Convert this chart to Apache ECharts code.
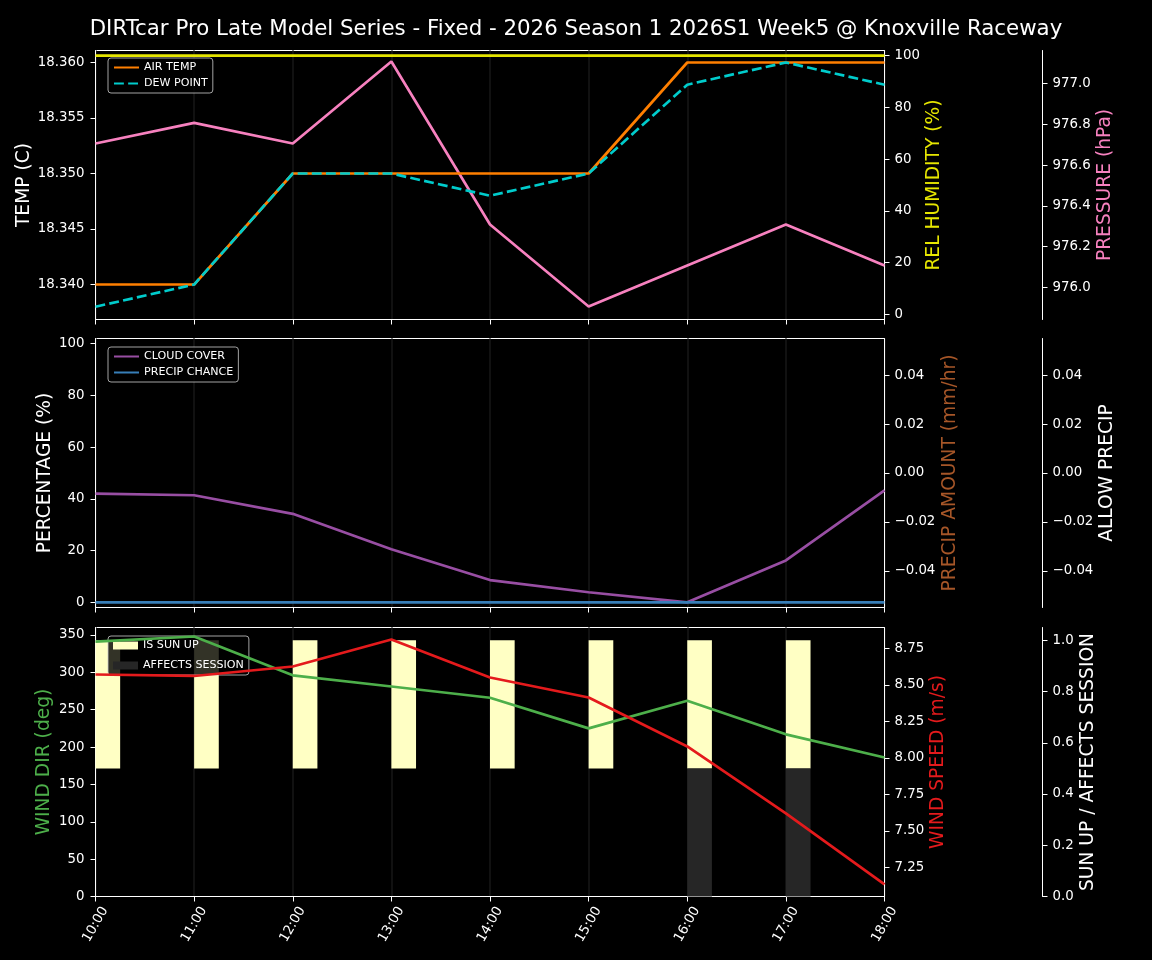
<!DOCTYPE html>
<html style="height:100%;width:100%">
<head>
<meta charset="UTF-8">
<title>Weather</title>
<style>
	body { margin:0; background:#000000; }
	#container { width:1152px; height:960px; }
</style>
<script src="https://cdn.jsdelivr.net/npm/echarts@6/dist/echarts.min.js"></script>
</head>
<body>
<div id="container"></div>
<script type="text/javascript">
var hours = ['10:00','11:00','12:00','13:00','14:00','15:00','16:00','17:00','18:00'];

var airTemp = [18.340,18.340,18.350,18.350,18.350,18.350,18.360,18.360,18.360];
var dewPoint = [18.338,18.340,18.350,18.350,18.348,18.350,18.358,18.360,18.358];
var humidity = [100,100,100,100,100,100,100,100,100];
var pressure = [976.706,976.807,976.706,977.108,976.309,975.907,976.108,976.309,976.108];

var cloudCover = [42,41.4,34.2,20.5,8.6,3.9,0,16.2,43.3];
var precipChance = [0,0,0,0,0,0,0,0,0];

var windDir = [341,348,296,281,266,225,262,217,186];
var windSpeed = [8.572,8.562,8.627,8.812,8.551,8.414,8.079,7.62,7.134];
var sunUp = [1,1,1,1,1,1,1,1,1];
var affectsSession = [0,0,0,0,0,0,1,1,1];

var tempTicks = [18.340,18.345,18.350,18.355,18.360];
var humidityTicks = [0,20,40,60,80,100];
var pressureTicks = [976.0,976.2,976.4,976.6,976.8,977.0];
var percentTicks = [0,20,40,60,80,100];
var precipTicks = [-0.04,-0.02,0,0.02,0.04];
var dirTicks = [0,50,100,150,200,250,300,350];
var speedTicks = [7.25,7.5,7.75,8,8.25,8.5,8.75];
var sessionTicks = [0,0.2,0.4,0.6,0.8,1];

var FONT = 'DejaVu Sans';
// half pixels keep the 1px frame crisp
var grids = [
	{ left:95.5, width:789, top:50.5, height:269, show:true, borderColor:'#fff', borderWidth:1, backgroundColor:'#000' },
	{ left:95.5, width:789, top:338.5, height:269, show:true, borderColor:'#fff', borderWidth:1, backgroundColor:'#000' },
	{ left:95.5, width:789, top:627.5, height:269, show:true, borderColor:'#fff', borderWidth:1, backgroundColor:'#000' }
];

function xAxis(gridIndex, labels) {
	return {
		type:'category', gridIndex:gridIndex, data:hours, boundaryGap:false,
		axisLine:{ onZero:false, lineStyle:{ color:'#fff', width:1 } },
		axisTick:{ show:true, length:5, alignWithLabel:true, lineStyle:{ color:'#fff', width:1 } },
		axisLabel:{
			show:labels, interval:0, rotate:60, align:'center', verticalAlign:'middle',
			color:'#fff', fontFamily:FONT, fontSize:13.33, margin:28
		},
		splitLine:{ show:true, interval:0, lineStyle:{ color:'#111', width:2 } }
	};
}

function yAxis(gridIndex, position, offset, name, nameColor, nameGap, min, max, ticks, decimals) {
	return {
		type:'value', gridIndex:gridIndex, position:position, offset:offset, min:min, max:max,
		name:name, nameLocation:'middle', nameRotate:90, nameGap:nameGap, nameMoveOverlap:false,
		nameTextStyle:{ color:nameColor, fontFamily:FONT, fontSize:18.67 },
		axisLine:{ show:true, onZero:false, lineStyle:{ color:'#fff', width:1 } },
		axisTick:{ show:true, length:5, customValues:ticks, lineStyle:{ color:'#fff', width:1 } },
		axisLabel:{
			color:'#fff', fontFamily:FONT, fontSize:13.33, margin:position == 'left' ? 11 : 10,
			padding:[4,0,0,0], customValues:ticks,
			formatter:function(v) { return v.toFixed(decimals).replace('-', '\u2212'); }
		},
		splitLine:{ show:false }
	};
}

// lines sit above the legend box, the bars below it
function line(name, data, color, xIndex, yIndex, dashed) {
	return {
		name:name, type:'line', data:data, xAxisIndex:xIndex, yAxisIndex:yIndex, z:11,
		symbol:'none', silent:true,
		lineStyle:{ color:color, width:2.67, type:dashed ? [9.87,4.27] : 'solid' },
		itemStyle:{ color:color }
	};
}

// bars start on the tick and fill a quarter of the hour, each one takes half of the axis
function halfBar(name, data, color, base) {
	return {
		name:name, type:'custom', data:data.map(function(v, i) { return [i, v]; }),
		xAxisIndex:2, yAxisIndex:8, z:2, silent:true, itemStyle:{ color:color },
		encode:{ x:0, y:1 },
		renderItem:function(params, api) {
			if (!api.value(1)) return;
			var start = api.coord([api.value(0), base + 0.5]);
			var end = api.coord([api.value(0), base]);
			var shape = echarts.graphic.clipRectByRect({
				x:start[0], y:start[1], width:api.size([1, 0])[0] * 0.25, height:end[1] - start[1]
			}, params.coordSys);
			return shape && { type:'rect', shape:shape, style:{ fill:color } };
		}
	};
}

function legend(left, top, names, itemHeight) {
	var box = {
		orient:'vertical', left:left, top:top, data:names, selectedMode:false,
		itemWidth:25, itemHeight:itemHeight || 12, itemGap:itemHeight ? 9 : 5,
		padding:[4,5,4,5],
		backgroundColor:'rgba(0,0,0,0.8)', borderColor:'rgba(204,204,204,0.8)', borderWidth:1, borderRadius:3,
		textStyle:{ color:'#fff', fontFamily:FONT, fontSize:11.1 }, z:10
	};
	if (itemHeight) {
		box.icon = 'rect';
	} else {
		// the line series would otherwise get a circle on their legend line
		box.itemStyle = { opacity:0 };
	}
	return box;
}

var option = {
	animation:false,
	backgroundColor:'#000',
	title:{
		text:'DIRTcar Pro Late Model Series - Fixed - 2026 Season 1 2026S1 Week5 @ Knoxville Raceway',
		left:'center', top:14,
		textStyle:{ color:'#fff', fontFamily:FONT, fontSize:21.33, fontWeight:'normal' }
	},
	grid:grids,
	legend:[
		legend(108, 58, ['AIR TEMP','DEW POINT']),
		legend(108, 347, ['CLOUD COVER','PRECIP CHANCE']),
		legend(108, 636, ['IS SUN UP','AFFECTS SESSION'], 8)
	],
	xAxis:[ xAxis(0, false), xAxis(1, false), xAxis(2, true) ],
	yAxis:[
		yAxis(0, 'left', 0, 'TEMP (C)', '#fff', 62, 18.33685, 18.36108, tempTicks, 3),
		yAxis(0, 'right', 0, 'REL HUMIDITY (%)', '#e6e600', 40, -2, 102, humidityTicks, 0),
		yAxis(0, 'right', 158, 'PRESSURE (hPa)', '#f781bf', 53, 975.843, 977.162, pressureTicks, 1),
		yAxis(1, 'left', 0, 'PERCENTAGE (%)', '#fff', 41, -2, 102, percentTicks, 0),
		yAxis(1, 'right', 0, 'PRECIP AMOUNT (mm/hr)', '#a65628', 56, -0.055, 0.055, precipTicks, 2),
		yAxis(1, 'right', 158, 'ALLOW PRECIP', '#fff', 55, -0.055, 0.055, precipTicks, 2),
		yAxis(2, 'left', 0, 'WIND DIR (deg)', '#4daf4a', 42, 0, 360, dirTicks, 0),
		yAxis(2, 'right', 0, 'WIND SPEED (m/s)', '#e41a1c', 44, 7.051, 8.894, speedTicks, 2),
		yAxis(2, 'right', 158, 'SUN UP / AFFECTS SESSION', '#fff', 36, 0, 1.05, sessionTicks, 1)
	],
	series:[
		line('REL HUMIDITY', humidity, '#e6e600', 0, 1),
		line('PRESSURE', pressure, '#f781bf', 0, 2),
		line('AIR TEMP', airTemp, '#ff7f00', 0, 0),
		line('DEW POINT', dewPoint, '#00cccc', 0, 0, true),
		line('CLOUD COVER', cloudCover, '#984ea3', 1, 3),
		line('PRECIP CHANCE', precipChance, '#377eb8', 1, 3),
		halfBar('IS SUN UP', sunUp, '#ffffc4', 0.5),
		halfBar('AFFECTS SESSION', affectsSession, '#262626', 0),
		line('WIND DIR', windDir, '#4daf4a', 2, 6),
		line('WIND SPEED', windSpeed, '#e41a1c', 2, 7)
	]
};

var myChart = echarts.init(document.getElementById('container'));
myChart.setOption(option);
</script>
</body>
</html>
